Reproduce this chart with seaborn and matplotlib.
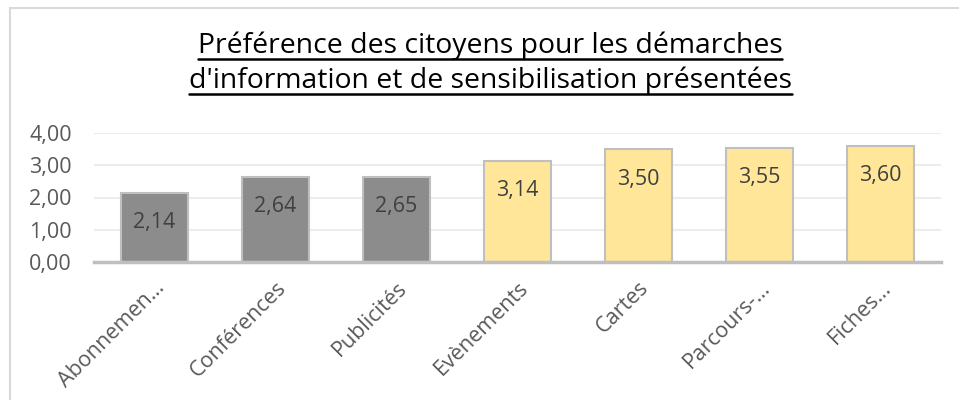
import matplotlib
matplotlib.use("Agg")
import matplotlib.pyplot as plt
import seaborn as sns
from matplotlib.lines import Line2D
from matplotlib.patches import Rectangle

# data
categories = ["Abonnemen…", "Conférences", "Publicités", "Evènements", "Cartes", "Parcours-…", "Fiches…"]
values = [2.14, 2.64, 2.65, 3.14, 3.50, 3.55, 3.60]
labels = ["2,14", "2,64", "2,65", "3,14", "3,50", "3,55", "3,60"]
bar_colors = ["#8c8c8c", "#8c8c8c", "#8c8c8c", "#ffe699", "#ffe699", "#ffe699", "#ffe699"]
yticks = [0, 1, 2, 3, 4]
ytick_labels = ["0,00", "1,00", "2,00", "3,00", "4,00"]
title_lines = ["Préférence des citoyens pour les démarches",
               "d'information et de sensibilisation présentées"]

sns.set_theme(style="white")
plt.rcParams["font.family"] = ["Open Sans", "DejaVu Sans"]

fig = plt.figure(figsize=(9.59, 4.0), dpi=100)
ax = fig.add_axes([94 / 959, 1 - 262 / 400, 847 / 959, 129 / 400])

sns.barplot(x=categories, y=values, hue=categories, palette=bar_colors, legend=False,
            width=0.55, edgecolor="#bfbfbf", linewidth=1.5, saturation=1, ax=ax)

ax.set_xlim(-0.5, len(categories) - 0.5)
ax.set_ylim(0, 4)
ax.set_yticks(yticks)
ax.set_yticklabels(ytick_labels)
ax.set_xticks(range(len(categories)))
ax.set_xticklabels(categories, rotation=45, ha="right", va="top", rotation_mode="anchor")
ax.tick_params(axis="y", length=0, pad=16, labelsize=15.5, labelcolor="#595959")
ax.tick_params(axis="x", length=0, pad=11, labelsize=15.5, labelcolor="#595959")
ax.set_xlabel("")
ax.set_ylabel("")

for t in yticks[1:]:
    ax.axhline(t, color="#ececec", linewidth=1.5, zorder=0)
for s in ["top", "right", "left"]:
    ax.spines[s].set_visible(False)
ax.spines["bottom"].set_color("#bfbfbf")
ax.spines["bottom"].set_linewidth(2.5)
ax.set_axisbelow(True)

# value labels inside the top of each bar
for i, (v, lab) in enumerate(zip(values, labels)):
    ax.annotate(lab, (i, v), xytext=(0, -30), textcoords="offset pixels",
                ha="center", va="center", fontsize=15.5, color="#404040")

# underlined title, two lines
title_y = [46 / 400, 81 / 400]
texts = []
for line, ty in zip(title_lines, title_y):
    texts.append(fig.text(0.511, 1 - ty, line, ha="center", va="center",
                          fontsize=20.4, color="black"))
fig.canvas.draw()
r = fig.canvas.get_renderer()
for t in texts:
    bb = t.get_window_extent(r)
    yline = bb.y0 + 1
    fig.add_artist(Line2D([bb.x0 / 959, bb.x1 / 959], [yline / 400, yline / 400],
                          transform=fig.transFigure, color="black", linewidth=1.8))

# chart frame
fig.add_artist(Rectangle((10 / 959, -0.1), 1.2, 1.1 - 8 / 400, transform=fig.transFigure,
                         fill=False, edgecolor="#d9d9d9", linewidth=1.5, clip_on=False))

fig.savefig("out.png", dpi=100)
